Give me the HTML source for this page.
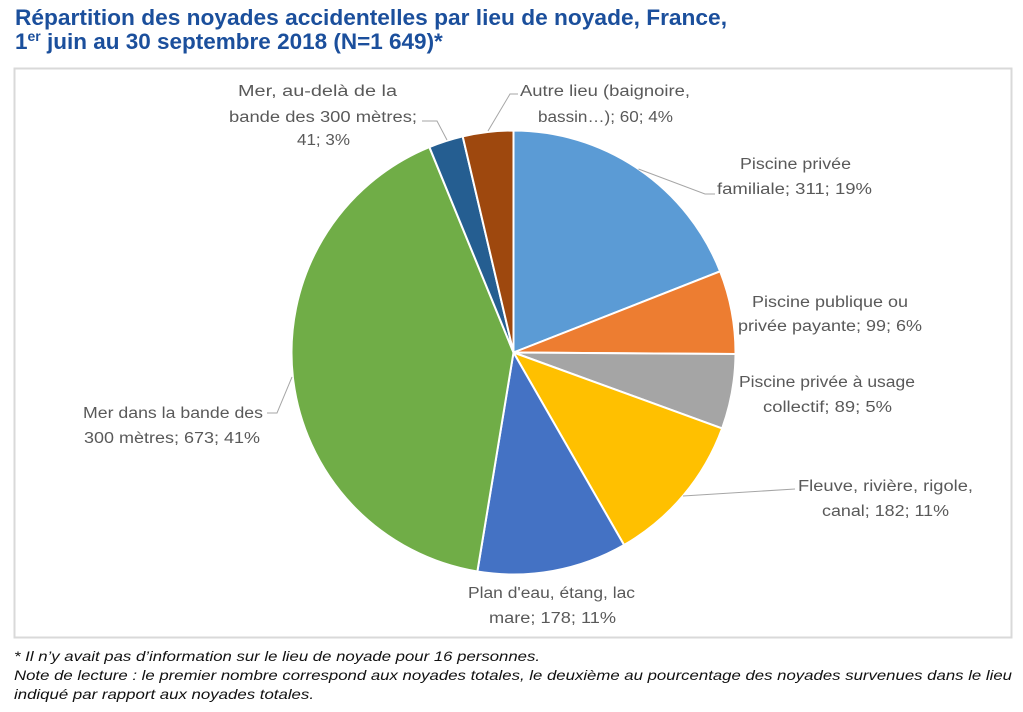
<!DOCTYPE html>
<html>
<head>
<meta charset="utf-8">
<style>
  html,body{margin:0;padding:0;background:#fff;}
  svg{display:block;}
  .lbl{font-family:"Liberation Sans",sans-serif;font-size:15.5px;fill:#595959;}
  .ttl{font-family:"Liberation Sans",sans-serif;font-size:22.5px;font-weight:bold;fill:#1b4f9c;}
  .fn{font-family:"Liberation Sans",sans-serif;font-size:14px;font-style:italic;fill:#111;}
</style>
</head>
<body>
<svg width="1023" height="712" viewBox="0 0 1023 712" xmlns="http://www.w3.org/2000/svg">
  <rect x="0" y="0" width="1023" height="712" fill="#fff"/>

  <!-- Title -->
  <text class="ttl" x="15" y="25" textLength="712" lengthAdjust="spacingAndGlyphs">Répartition des noyades accidentelles par lieu de noyade, France,</text>
  <text class="ttl" x="15" y="49">1<tspan font-size="14" dy="-8">er</tspan><tspan dy="8"> juin au 30 septembre 2018 (N=1 649)*</tspan></text>

  <!-- Chart box -->
  <rect x="14.5" y="68.5" width="997" height="569" fill="none" stroke="#d9d9d9" stroke-width="2"/>

  <!-- Pie -->
  <g stroke="#fff" stroke-width="2" stroke-linejoin="round">
    <path d="M513.5,352.5 L513.5,130.5 A222,222 0 0 1 720.14,271.35 Z" fill="#5B9BD5"/>
    <path d="M513.5,352.5 L720.14,271.35 A222,222 0 0 1 735.50,354.00 Z" fill="#ED7D31"/>
    <path d="M513.5,352.5 L735.50,354.00 A222,222 0 0 1 722.11,428.45 Z" fill="#A5A5A5"/>
    <path d="M513.5,352.5 L722.11,428.45 A222,222 0 0 1 624.07,545.01 Z" fill="#FFC000"/>
    <path d="M513.5,352.5 L624.07,545.01 A222,222 0 0 1 477.36,571.54 Z" fill="#4472C4"/>
    <path d="M513.5,352.5 L477.36,571.54 A222,222 0 0 1 429.37,147.06 Z" fill="#70AD47"/>
    <path d="M513.5,352.5 L429.37,147.06 A222,222 0 0 1 462.68,136.39 Z" fill="#255E91"/>
    <path d="M513.5,352.5 L462.68,136.39 A222,222 0 0 1 513.5,130.5 Z" fill="#9E480E"/>
  </g>

  <!-- Leader lines -->
  <g fill="none" stroke="#a6a6a6" stroke-width="1">
    <polyline points="518,94 510,94 488,131"/>
    <polyline points="422,121 437,121 447,140"/>
    <polyline points="715,194 705,194 638.5,169"/>
    <polyline points="795,489 683,496"/>
    <polyline points="267,413 277,413 292,377"/>
  </g>

  <!-- Labels -->
  <text class="lbl" x="740" y="169" textLength="111" lengthAdjust="spacingAndGlyphs">Piscine privée</text>
  <text class="lbl" x="717" y="194" textLength="155" lengthAdjust="spacingAndGlyphs">familiale; 311; 19%</text>

  <text class="lbl" x="752" y="307" textLength="156" lengthAdjust="spacingAndGlyphs">Piscine publique ou</text>
  <text class="lbl" x="738" y="331" textLength="184" lengthAdjust="spacingAndGlyphs">privée payante; 99; 6%</text>

  <text class="lbl" x="739" y="387" textLength="176" lengthAdjust="spacingAndGlyphs">Piscine privée à usage</text>
  <text class="lbl" x="763" y="412" textLength="129" lengthAdjust="spacingAndGlyphs">collectif; 89; 5%</text>

  <text class="lbl" x="798" y="491" textLength="175" lengthAdjust="spacingAndGlyphs">Fleuve, rivière, rigole,</text>
  <text class="lbl" x="822" y="516" textLength="127" lengthAdjust="spacingAndGlyphs">canal; 182; 11%</text>

  <text class="lbl" x="468" y="598" textLength="167" lengthAdjust="spacingAndGlyphs">Plan d'eau, étang, lac</text>
  <text class="lbl" x="489" y="623" textLength="127" lengthAdjust="spacingAndGlyphs">mare; 178; 11%</text>

  <text class="lbl" x="83" y="418" textLength="180" lengthAdjust="spacingAndGlyphs">Mer dans la bande des</text>
  <text class="lbl" x="84" y="443" textLength="176" lengthAdjust="spacingAndGlyphs">300 mètres; 673; 41%</text>

  <text class="lbl" x="238" y="96" textLength="159" lengthAdjust="spacingAndGlyphs">Mer, au-delà de la</text>
  <text class="lbl" x="229" y="122" textLength="188" lengthAdjust="spacingAndGlyphs">bande des 300 mètres;</text>
  <text class="lbl" x="297" y="145" textLength="53" lengthAdjust="spacingAndGlyphs">41; 3%</text>

  <text class="lbl" x="520" y="96" textLength="170" lengthAdjust="spacingAndGlyphs">Autre lieu (baignoire,</text>
  <text class="lbl" x="538" y="122" textLength="135" lengthAdjust="spacingAndGlyphs">bassin…); 60; 4%</text>

  <!-- Footnotes -->
  <text class="fn" x="14" y="661" textLength="526" lengthAdjust="spacingAndGlyphs">* Il n’y avait pas d’information sur le lieu de noyade pour 16 personnes.</text>
  <text class="fn" x="14" y="680" textLength="998" lengthAdjust="spacingAndGlyphs">Note de lecture : le premier nombre correspond aux noyades totales, le deuxième au pourcentage des noyades survenues dans le lieu</text>
  <text class="fn" x="14" y="699" textLength="300" lengthAdjust="spacingAndGlyphs">indiqué par rapport aux noyades totales.</text>
</svg>
</body>
</html>
